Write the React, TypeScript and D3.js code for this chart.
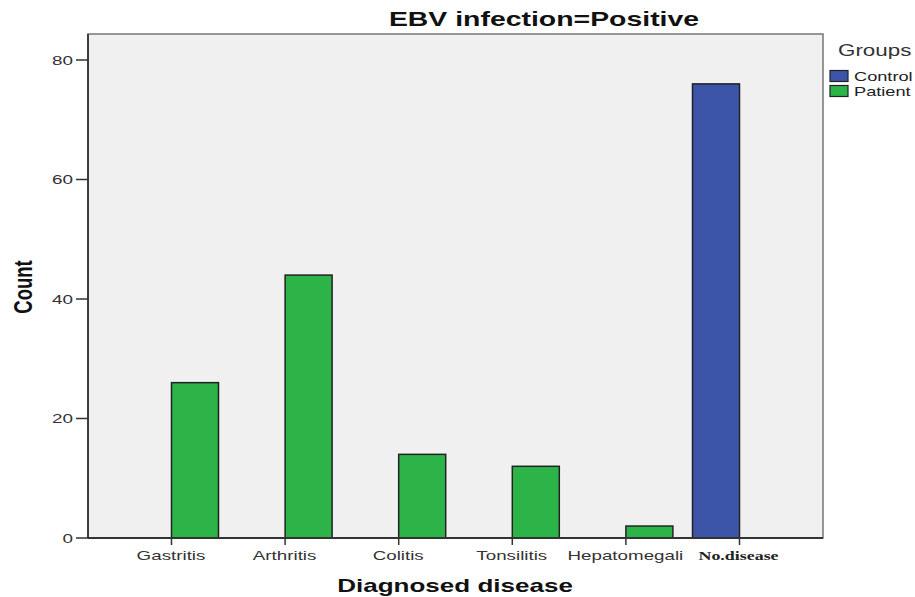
import React from "react";
import * as d3 from "d3";

const categories = ["Gastritis", "Arthritis", "Colitis", "Tonsilitis", "Hepatomegali", "No.disease"];
const groups = ["Control", "Patient"];
const controlValues = [0, 0, 0, 0, 0, 76];
const patientValues = [26, 44, 14, 12, 2, 0];
const yTicks = [0, 20, 40, 60, 80];
const groupColors = ["#3c55a9", "#2db449"];

const W = 915, H = 597;
const plot = { left: 88, right: 823, top: 34, bottom: 538 };
const SX = 1.4;
const SANS = "'Liberation Sans', Arial, sans-serif";

function T(props: any) {
  const { x, y, sx = SX, rotate, children, ...rest } = props;
  const tr = `translate(${x},${y}) scale(${sx},1)` + (rotate ? ` rotate(${rotate})` : "");
  return <text transform={tr} {...rest}>{children}</text>;
}

export default function App() {
  const x = d3.scalePoint<string>().domain(categories).range([plot.left, plot.right]).padding(0.735);
  const barW = 47;
  const xg = d3.scaleBand<string>().domain(groups).range([-barW, barW]).padding(0);
  const y = d3.scaleLinear().domain([0, 84.35]).range([plot.bottom, plot.top]);
  const series = [controlValues, patientValues];

  return (
    <svg width={W} height={H} style={{ position: "absolute", left: 0, top: 0 }} fontFamily={SANS}>
      <rect x={0} y={0} width={W} height={H} fill="#ffffff" />
      <rect x={plot.left} y={plot.top} width={plot.right - plot.left} height={plot.bottom - plot.top} fill="#f0f0f0" stroke="#777" strokeWidth={1.5} />
      <T x={544} y={26} textAnchor="middle" fontWeight="bold" fontSize={20.3} fill="#111">EBV infection=Positive</T>
      {series.map((vals, gi) =>
        categories.map((c, i) =>
          vals[i] > 0 ? (
            <rect key={c + gi} x={(x(c) as number) + (xg(groups[gi]) as number)} y={y(vals[i])} width={xg.bandwidth()} height={y(0) - y(vals[i])} fill={groupColors[gi]} stroke="#222" strokeWidth={1.5} />
          ) : null
        )
      )}
      <line x1={plot.left} x2={plot.left} y1={plot.top} y2={plot.bottom} stroke="#333" strokeWidth={1.8} />
      <line x1={plot.left} x2={plot.right} y1={plot.bottom} y2={plot.bottom} stroke="#333" strokeWidth={1.8} />
      {yTicks.map(t => (
        <g key={t}>
          <line x1={plot.left - 12} x2={plot.left} y1={y(t)} y2={y(t)} stroke="#333" strokeWidth={1.5} />
          <T x={plot.left - 15} y={y(t) + 4.8} textAnchor="end" fontSize={13.5} fill="#333">{t}</T>
        </g>
      ))}
      {categories.map(c => (
        <g key={c}>
          <line x1={x(c)} x2={x(c)} y1={plot.bottom} y2={plot.bottom + 7} stroke="#333" strokeWidth={1.5} />
          {c === "No.disease" ? (
            <T x={(x(c) as number) - 1} y={560} textAnchor="middle" fontFamily="'Liberation Serif', 'Times New Roman', serif" fontWeight="bold" fontSize={12.8} fill="#222">{c}</T>
          ) : (
            <T x={(x(c) as number) - 0.5} y={560} textAnchor="middle" fontSize={13.4} fill="#333">{c}</T>
          )}
        </g>
      ))}
      <T x={455} y={592} textAnchor="middle" fontWeight="bold" fontSize={18.6} fill="#111">Diagnosed disease</T>
      <T x={32} y={287} rotate={-90} textAnchor="middle" fontWeight="bold" fontSize={18.5} fill="#111">Count</T>
      <T x={838} y={56} fontSize={16} fill="#333">Groups</T>
      {groups.map((g, i) => (
        <g key={g}>
          <rect x={830} y={70.5 + i * 15} width={18} height={11} fill={groupColors[i]} stroke="#222" strokeWidth={1.2} />
          <T x={854} y={81 + i * 15} fontSize={13} fill="#222">{g}</T>
        </g>
      ))}
    </svg>
  );
}
